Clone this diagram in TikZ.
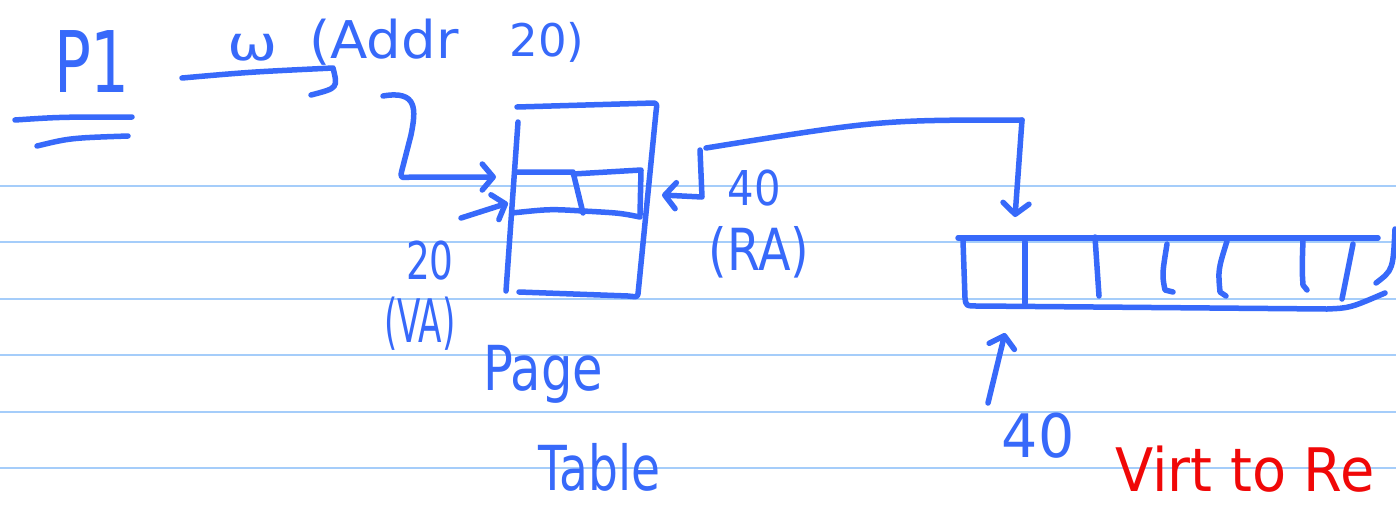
\documentclass[tikz,border=0pt]{standalone}
\usepackage{fontspec}
\setmainfont{DejaVu Sans}
\usetikzlibrary{arrows.meta}
\definecolor{ink}{RGB}{55,105,250}
\definecolor{ruled}{RGB}{165,205,250}
\definecolor{redink}{RGB}{240,8,8}
% hand-sized text: size, horizontal squeeze, text
\newcommand\handtext[3]{\fontsize{#1}{#1}\selectfont\scalebox{#2}[1]{#3}}
\tikzset{
  pen/.style={draw=ink, line width=5.5pt, line cap=round, line join=round},
  rule/.style={draw=ruled, line width=2pt},
  hand/.style={text=ink, inner sep=0pt},
  barb/.style={-{Straight Barb[length=11pt,width=26pt,line cap=round,line join=round]}},
}
\begin{document}
\begin{tikzpicture}[x=1pt,y=-1pt]
\useasboundingbox[fill=white] (0,0) rectangle (1396,507);
% ruled paper
\foreach \yy in {186,242,299,355,412,468} \draw[rule] (0,\yy) -- (1396,\yy);

% process label and request
\node[hand] (p1) at (92,62) {\handtext{85}{0.72}{P1}};
\draw[pen] (15,120) .. controls (60,117) .. (132,117);
\draw[pen] (37,146) .. controls (70,138) .. (128,136);
\node[hand] (omega) at (253,48) {\handtext{48}{1.25}{ω}};
\node[hand] (addr) at (384,42) {\handtext{52}{1.05}{(Addr}};
\node[hand] (addrnum) at (547,42) {\handtext{45}{1.0}{20)}};
\coordinate (req) at (182,78);
\coordinate (reqend) at (333,68);
\draw[pen] (req) .. controls (250,72) .. (reqend) .. controls (338,88) .. (311,95);

% page table
\coordinate (ptTL) at (517,107);
\coordinate (ptTR) at (654,103);
\coordinate (ptBR) at (638,294);
\coordinate (ptBL) at (519,292);
\draw[pen] (ptTL) -- (ptTR) .. controls (657,104) .. (656,112) -- (ptBR) .. controls (637,297) .. (628,296) -- (ptBL);
\draw[pen] (518,122) -- (506,291);
\draw[pen] (515,172) -- (573,172) -- (583,213);
\draw[pen] (573,174) -- (641,170) -- (640,215);
\draw[pen] (512,213) .. controls (550,209) .. (583,211) .. controls (620,213) .. (640,217);
\coordinate (entry) at (496,177);
\coordinate (entrylow) at (508,203);

% virtual address into the table
\coordinate (va0) at (383,96);
\draw[pen, barb] (va0) .. controls (418,90) and (416,110) .. (411,135) -- (402,170) .. controls (400,178) .. (412,177) -- (entry);
\coordinate (va1) at (461,218);
\draw[pen, barb] (va1) -- (entrylow);
\node[hand] (va) at (430,261) {\handtext{52}{0.72}{20}};
\node[hand] (valbl) at (420,324) {\handtext{60}{0.57}{(VA)}};

% real address out of the table
\coordinate (ra0) at (1022,120);
\coordinate (ra1) at (706,148);
\coordinate (ra2) at (700,150);
\coordinate (ra3) at (702,197);
\coordinate (raend) at (662,195);
\draw[pen] (ra0) .. controls (880,120) .. (ra1);
\draw[pen, barb] (ra2) -- (ra3) -- (raend);
\node[hand] (ra) at (754,188) {\handtext{48}{0.87}{40}};
\node[hand] (ralbl) at (759,252) {\handtext{58}{0.82}{(RA)}};

% page table caption
\node[hand, anchor=base west] (page) at (483,390) {\handtext{62}{0.8}{Page}};
\node[hand, anchor=base west] (table) at (538,490) {\handtext{62}{0.76}{Table}};

% physical memory frames
\coordinate (memTL) at (958,238);
\coordinate (memTR) at (1378,238);
\coordinate (frame) at (1015,217);
\draw[pen, barb] (ra0) -- (frame);
\draw[pen] (memTL) -- (memTR);
\draw[pen] (963,241) -- (965,298) .. controls (966,306) .. (978,306) -- (1327,309) .. controls (1350,308) .. (1385,293);
\draw[pen] (1025,242) -- (1025,303);
\draw[pen] (1095,237) -- (1099,296);
\draw[pen] (1167,244) .. controls (1162,275) .. (1165,290) -- (1173,292);
\draw[pen] (1227,241) .. controls (1218,270) .. (1220,292) -- (1226,296);
\draw[pen] (1303,239) .. controls (1302,270) .. (1303,285) -- (1307,290);
\draw[pen] (1353,244) -- (1342,299);
\draw[pen] (1395,229) .. controls (1393,270) .. (1376,283);
\coordinate (frameptr) at (988,403);
\coordinate (framebase) at (1005,333);
\draw[pen, barb] (frameptr) -- (framebase);
\node[hand] (frlbl) at (1038,436) {\handtext{60}{0.95}{40}};

% margin note
\node[text=redink, inner sep=0pt, anchor=base west] (note) at (1115,491) {\handtext{60}{0.93}{Virt to Re}};
\end{tikzpicture}
\end{document}
